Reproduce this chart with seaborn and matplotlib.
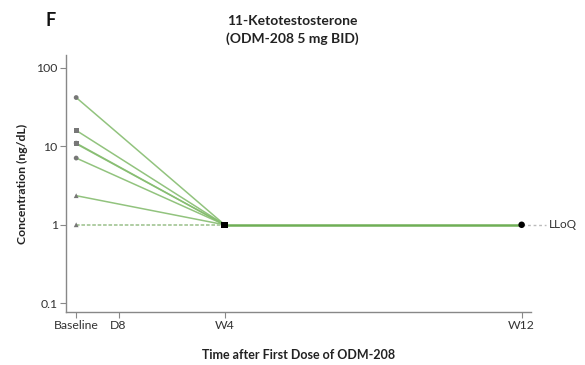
import matplotlib
matplotlib.use("Agg")
import matplotlib.pyplot as plt
import seaborn as sns
import pandas as pd
import numpy as np
from matplotlib.ticker import FixedLocator, NullLocator

sns.set_theme(style="white")
plt.rcParams['font.family'] = ['Lato', 'DejaVu Sans']

# Data
visit_labels = ["Baseline", "D8", "W4", "W12"]
visit_days = [0, 8, 28, 84]
subjects = ["S1", "S2", "S3", "S4", "S5", "S6", "S7"]
baseline = [42.0, 16.0, 11.0, 10.8, 7.1, 2.35, 1.0]
week4 = [1.0, 1.0, 1.0, 1.0, 1.0, 1.0, 1.0]
week12 = [1.0, 1.0, 1.0, 1.0, 1.0, 1.0, 1.0]
base_markers = ["o", "s", "o", "s", "o", "^", "^"]
lloq = 1.0

rows = []
for s, b, w4, w12 in zip(subjects, baseline, week4, week12):
    rows.append((s, 0, b))
    rows.append((s, 28, w4))
    rows.append((s, 84, w12))
df = pd.DataFrame(rows, columns=["subject", "day", "conc"])

fig = plt.figure(figsize=(5.85, 3.65), dpi=100)
ax = fig.add_axes([0.113, 0.145, 0.795, 0.704])

green = "#86bd70"
ax.set_yscale("log")

# lines baseline -> W4
for s, b in zip(subjects, baseline):
    d = df[(df.subject == s) & (df.day <= 28)]
    if b <= lloq:
        sns.lineplot(data=d, x="day", y="conc", ax=ax, color="#a9c99c", lw=1.3,
                     linestyle=(0, (2, 1)), legend=False)
    else:
        sns.lineplot(data=d, x="day", y="conc", ax=ax, color=green, lw=1.1,
                     alpha=0.9, legend=False)
# W4 -> W12
d = df[df.day >= 28].groupby("day", as_index=False)["conc"].median()
sns.lineplot(data=d, x="day", y="conc", ax=ax, color="#6fae55", lw=1.8, legend=False)

# LLoQ extension
ax.plot([84, 88.6], [lloq, lloq], color="#bbbbbb", lw=1.0, linestyle=(0, (2, 2)),
        clip_on=False)
ax.text(89.2, lloq, "LLoQ", va="center", ha="left", fontsize=8.5, color="#333333")

# baseline markers
for b, m in zip(baseline, base_markers):
    sns.scatterplot(x=[0], y=[b], marker=m, s=12, color="#777777",
                    edgecolor="none", ax=ax, legend=False, zorder=5)
sns.scatterplot(x=[28], y=[1.0], marker="s", s=22, color="black", edgecolor="none",
                ax=ax, legend=False, zorder=6)
sns.scatterplot(x=[84], y=[1.0], marker="o", s=22, color="black", edgecolor="none",
                ax=ax, legend=False, zorder=6)

ax.set_xlim(-1.9, 85.8)
ax.set_ylim(0.077, 146)
ax.yaxis.set_major_locator(FixedLocator([0.1, 1, 10, 100]))
ax.yaxis.set_minor_locator(NullLocator())
ax.set_yticklabels(["0.1", "1", "10", "100"])
ax.set_xticks(visit_days)
ax.set_xticklabels(visit_labels)

for side in ["top", "right"]:
    ax.spines[side].set_visible(False)
for side in ["left", "bottom"]:
    ax.spines[side].set_color("#888888")
    ax.spines[side].set_linewidth(1.0)
ax.tick_params(axis="both", which="major", length=4, width=0.8, color="#888888",
               labelsize=8.8, labelcolor="#333333", pad=2, direction="out",
               left=True, bottom=True)

ax.set_xlabel("Time after First Dose of ODM-208", fontsize=9, fontweight="bold",
              labelpad=13, color="#222222")
ax.set_ylabel("Concentration (ng/dL)", fontsize=8.8, fontweight="bold",
              labelpad=6, color="#222222")

fig.text(0.5, 0.918, "11-Ketotestosterone\n(ODM-208 5 mg BID)", ha="center",
         va="center", fontsize=10, fontweight="bold", color="#222222",
         linespacing=1.55)
fig.text(0.087, 0.945, "F", ha="center", va="center", fontsize=13,
         fontweight="bold", color="#111111")

fig.savefig("out.png", dpi=100)
